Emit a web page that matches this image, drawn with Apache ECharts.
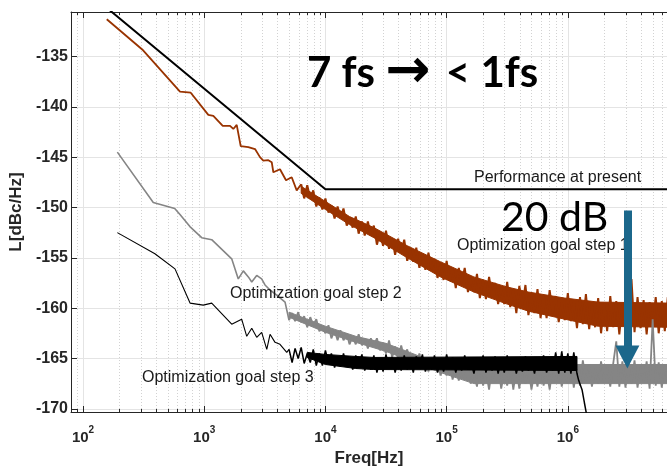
<!DOCTYPE html>
<html><head><meta charset="utf-8">
<script src="https://cdn.jsdelivr.net/npm/echarts@6/dist/echarts.min.js"></script>
<style>html,body{margin:0;padding:0;background:#fff}#c{width:667px;height:472px}</style>
</head><body><div id="c"></div>
<script>
// ---- axis ranges ----
const xMin = 79.6, xMax = 6.58e6, yMin = -170.32, yMax = -130.58;
// minor (dotted) frequency grid / minor ticks
const minorFreq = [90,
  200,300,400,500,600,700,800,900,
  2000,3000,4000,5000,6000,7000,8000,9000,
  20000,30000,40000,50000,60000,70000,80000,90000,
  200000,300000,400000,500000,600000,700000,800000,900000,
  2000000,3000000,4000000,5000000,6000000];

// ---- "Performance at present" ----
const perfFreq  = [100, 10000, 7000000];
const perfLevel = [-128.2, -148.2, -148.2];

// ---- sampled frequencies of the dense (noisy) part of the traces ----
const noiseFreq = [
  5010,5310,5620,5960,6310,6680,7080,7500,7940,8410,8910,9440,
  10000,10600,11200,11900,12600,13300,14100,15000,15800,16800,17800,18800,20000,21100,22400,23700,25100,26600,28200,29900,
  31600,33500,35500,37600,39800,42200,44700,47300,50100,53100,56200,59600,63100,66800,70800,75000,79400,84100,89100,94400,
  100000,106000,112000,119000,126000,133000,141000,150000,158000,168000,178000,188000,200000,211000,224000,237000,251000,266000,282000,299000,
  316000,335000,355000,376000,398000,422000,447000,473000,501000,531000,562000,596000,631000,668000,708000,750000,794000,841000,891000,944000,
  1000000,1060000,1120000,1190000,1260000,1330000,1410000,1500000,1580000,1680000,1780000,1880000,2000000,2110000,2240000,2370000,2510000,2660000,2820000,2990000,
  3160000,3350000,3550000,3760000,3980000,4220000,4470000,4730000,5010000,5310000,5620000,5960000,6310000,6680000];

// ---- Optimization goal step 1 (brown) ----
const step1LowFreq  = [157,308,631,774,1081,1189,1422,1633,1738,1854,2000,2311,2625,2884,3073,3381,3606,3718,4218,4362,4731,4797,5272,5795];
const step1LowLevel = [-131.3,-134.3,-138.5,-138.6,-140.8,-140.9,-141.9,-141.9,-142.2,-141.8,-143.9,-144.0,-144.2,-145.0,-145.35,-145.3,-145.5,-146.5,-146.2,-146.1,-147.3,-147.3,-147.0,-148.3];
const step1Noise = [null,null,null,null,
  -147.7,-149.1,-147.8,-149.1,-148.3,-149.9,-149.0,-150.2,-149.1,-150.5,
  -149.8,-151.1,-149.9,-151.0,-150.1,-151.8,-151.1,-152.0,-150.9,-152.6,
  -151.4,-152.8,-151.4,-152.8,-151.8,-153.7,-152.5,-153.8,-152.3,-154.1,
  -153.1,-154.7,-153.1,-154.5,-153.2,-155.3,-154.3,-155.4,-154.0,-156.0,
  -154.6,-156.2,-154.5,-156.1,-155.1,-157.0,-155.6,-157.2,-155.3,-157.3,
  -156.0,-158.0,-156.0,-157.5,-156.0,-158.4,-157.1,-158.4,-156.6,-159.0,
  -157.2,-159.1,-156.9,-158.8,-157.5,-159.6,-158.0,-159.6,-157.4,-159.9,
  -158.1,-160.5,-157.8,-159.7,-157.7,-160.7,-158.9,-160.5,-158.1,-161.0,
  -158.7,-161.0,-158.2,-160.5,-158.8,-161.4,-159.4,-161.2,-158.5,-161.3,
  -159.3,-162.0,-158.9,-161.6,-158.6,-162.1,-159.7,-161.9,-159.0,-162.5,
  -159.5,-162.3,-158.8,-161.9,-159.3,-162.6,-159.6,-162.2,-159.0,-157.1,
  -162.4,-158.9,-162.0,-159.2,-162.6,-159.4,-161.9,-158.9,-162.5,-159.3,
  -162.3,-158.9];
// solid core of the brown noise band (upper / lower edge)
const step1CoreFreq  = [6310,10000,15800,25100,47300,89100,168000,316000,473000,944000,1780000,6680000];
const step1CoreUpper = [-147.9,-149.4,-150.9,-152.0,-153.8,-155.4,-156.9,-157.9,-158.4,-159.0,-159.4,-159.5];
const step1CoreLower = [-148.6,-150.2,-151.7,-153.0,-155.0,-156.9,-158.4,-159.6,-160.3,-161.1,-161.8,-161.9];

// ---- Optimization goal step 2 (grey) ----
const step2LowFreq  = [192,380,571,631,762,953,1153,1686,1910,2102,2312,2467,2710,2978,3174,3493,3963,4645];
const step2LowLevel = [-144.5,-149.5,-150.1,-150.7,-151.9,-153.0,-153.2,-155.1,-157.1,-156.3,-156.9,-157.4,-156.75,-157.1,-157.7,-158.2,-158.7,-159.4];
const step2Noise = [
  -161.2,-160.5,-161.3,-160.4,-161.4,-160.8,-161.9,-160.9,-161.7,-161.1,
  -162.3,-161.8,-162.5,-161.7,-163.0,-162.2,-163.2,-162.2,-163.2,-162.5,
  -163.6,-162.8,-163.6,-162.6,-163.7,-163.0,-164.0,-163.0,-163.7,-163.0,
  -164.2,-163.6,-164.5,-163.2,-164.9,-163.8,-165.1,-163.7,-165.0,-164.1,
  -165.6,-164.6,-165.7,-164.5,-165.9,-165.0,-166.3,-165.0,-166.1,-165.1,
  -166.7,-165.8,-166.7,-165.5,-167.1,-165.9,-167.2,-165.8,-167.0,-166.1,
  -167.5,-166.5,-167.8,-165.6,-167.7,-166.2,-168.1,-165.8,-167.3,-165.5,
  -168.0,-166.4,-167.7,-165.6,-168.1,-166.0,-168.0,-165.5,-167.5,-165.9,
  -168.1,-166.3,-167.8,-165.6,-167.7,-166.2,-168.1,-165.8,-167.3,-165.5,
  -167.8,-166.2,-167.5,-165.4,-167.9,-165.8,-167.7,-165.2,-167.2,-165.6,
  -167.8,-166.0,-167.5,-165.3,-167.4,-165.9,-167.8,-165.5,-163.3,-167.8,
  -165.3,-167.9,-165.6,-167.5,-165.2,-167.9,-165.8,-167.3,-165.3,-168.0,
  -161.1,-167.7,-165.4,-167.9,-165.6,-167.4];
const step2CoreFreq  = [5010,10000,17800,31600,47300,89100,168000,1000000,6680000];
const step2CoreUpper = [-160.4,-161.8,-162.8,-163.5,-164.3,-165.6,-165.9,-165.6,-165.6];
const step2CoreLower = [-160.9,-162.4,-163.4,-164.3,-165.1,-166.4,-167.5,-167.5,-167.5];

// ---- Optimization goal step 3 (black) ----
const step3LowFreq  = [192,392,574,764,981,1153,1686,2037,2243,2467,2711,2980,3282,3493,3840,4218,4797];
const step3LowLevel = [-152.5,-154.6,-156.1,-159.5,-159.7,-159.5,-161.6,-161.1,-162.8,-162.0,-162.9,-162.4,-164.1,-162.6,-163.4,-163.6,-164.4];
const step3Noise = [
  -164.1,-165.4,-164.0,-165.0,-163.9,-165.5,-164.5,-165.4,-164.1,-165.7,
  -164.5,-165.7,-164.2,-165.4,-164.5,-165.9,-164.8,-165.8,-164.5,-165.8,
  -164.9,-166.1,-164.7,-165.7,-164.6,-166.2,-165.3,-166.1,-164.7,-166.4,
  -165.0,-166.3,-164.6,-166.0,-164.9,-166.4,-165.1,-166.2,-164.7,-166.1,
  -165.1,-166.4,-164.8,-165.9,-164.6,-166.3,-165.2,-166.1,-164.7,-166.4,
  -165.0,-166.3,-164.6,-166.0,-164.9,-166.4,-165.1,-166.2,-164.7,-166.1,
  -165.2,-166.5,-164.9,-166.0,-164.7,-166.4,-165.3,-166.2,-164.8,-166.5,
  -165.1,-166.4,-164.7,-166.1,-165.0,-166.5,-165.2,-166.3,-164.8,-166.2,
  -165.2,-166.5,-164.9,-166.0,-164.7,-166.4,-165.3,-166.2,-164.4,-166.5,
  -164.3,-166.4,-164.5,-166.5,-164.4,-166.5];
const step3TailFreq  = [1230000,1310000,1370000,1420000,1500000];
const step3TailLevel = [-167.2,-168.1,-169.4,-170.4,-172.5];
const step3CoreFreq  = [7080,10000,17800,25100,1190000];
const step3CoreUpper = [-164.4,-164.6,-164.8,-164.9,-164.8];
const step3CoreLower = [-164.9,-165.6,-166.0,-166.1,-166.2];

// ---- 20 dB arrow (data coordinates) ----
const arrowFreq = 3.1e6, arrowFrom = -150.3, arrowHead = -164.85;

// ---- tick labels ----
const yTickLabels = [-170,-165,-160,-155,-150,-145,-140,-135];

function pairs(fs, ls) {
  const out = [];
  for (let i = 0; i < fs.length; i++) if (ls[i] != null) out.push([fs[i], ls[i]]);
  return out;
}
const step1N = pairs(noiseFreq, step1Noise);
const step2N = pairs(noiseFreq, step2Noise);
const step3N = pairs(noiseFreq, step3Noise).concat(pairs(step3TailFreq, step3TailLevel));
const step1L = pairs(step1LowFreq, step1LowLevel).concat([step1N[0]]);
const step2L = pairs(step2LowFreq, step2LowLevel).concat([step2N[0]]);
const step3L = pairs(step3LowFreq, step3LowLevel).concat([step3N[0]]);

const AX = '#262626';
const FONT = '"Liberation Sans", Arial, Helvetica, sans-serif';
const chart = echarts.init(document.getElementById('c'), null, {renderer: 'canvas'});

function isPow10(v) {
  const l = Math.log10(v);
  return Math.abs(l - Math.round(l)) < 1e-6;
}
function lineSeries(name, data, color, width, z) {
  return {name: name, type: 'line', z: z, showSymbol: false, symbol: 'none', silent: true,
    data: data, lineStyle: {color: color, width: width}, clip: true};
}
// filled core of a noise band, drawn through the axes' scales
function bandSeries(fs, up, lo, color, z) {
  return {
    type: 'custom', z: z, silent: true, clip: true,
    data: fs.map((f, i) => [f, up[i], lo[i]]),
    encode: {x: 0, y: [1, 2]},
    renderItem: function (params, api) {
      if (params.dataIndex !== 0) return null;
      const pts = [];
      for (let i = 0; i < fs.length; i++) pts.push(api.coord([fs[i], up[i]]));
      for (let i = fs.length - 1; i >= 0; i--) pts.push(api.coord([fs[i], lo[i]]));
      return {type: 'polygon', shape: {points: pts}, style: {fill: color, stroke: color, lineWidth: 1}};
    }
  };
}

const option = {
  animation: false,
  backgroundColor: '#fff',
  textStyle: {fontFamily: FONT},
  grid: {left: 71, right: 0, top: 12, bottom: 53, containLabel: false},
  xAxis: [{
    type: 'log', logBase: 10, min: xMin, max: xMax, position: 'bottom',
    axisLine: {show: true, lineStyle: {color: AX, width: 1}},
    axisTick: {show: true, inside: true, length: 6, lineStyle: {color: AX}},
    splitLine: {show: true, lineStyle: {color: '#e4e4e4', width: 1}},
    axisLabel: {
      margin: 13, showMinLabel: false, showMaxLabel: false,
      formatter: function (v) { return isPow10(v) ? '{b|10}{s|' + Math.round(Math.log10(v)) + '}' : ''; },
      rich: {
        b: {fontFamily: FONT, fontWeight: 'bold', fontSize: 15, color: AX, lineHeight: 20, verticalAlign: 'bottom'},
        s: {fontFamily: FONT, fontWeight: 'bold', fontSize: 10, color: AX, lineHeight: 10, verticalAlign: 'top'}
      }
    },
    name: 'Freq[Hz]', nameLocation: 'middle', nameGap: 38,
    nameTextStyle: {fontFamily: FONT, fontWeight: 'bold', fontSize: 17, color: AX}
  }, {
    type: 'log', logBase: 10, min: xMin, max: xMax, position: 'top',
    axisLine: {show: true, lineStyle: {color: AX, width: 1}},
    axisTick: {show: true, inside: true, length: 6, lineStyle: {color: AX}},
    splitLine: {show: false}, axisLabel: {show: false}
  }],
  yAxis: [{
    type: 'value', min: yMin, max: yMax, splitNumber: 8,
    axisLine: {show: true, lineStyle: {color: AX, width: 1}},
    axisTick: {show: true, inside: true, length: 6, lineStyle: {color: AX}},
    splitLine: {show: true, lineStyle: {color: '#e4e4e4', width: 1}},
    axisLabel: {
      margin: 3, fontFamily: FONT, fontWeight: 'bold', fontSize: 16, color: AX,
      formatter: function (v) { return yTickLabels.indexOf(Math.round(v * 100) / 100) >= 0 ? String(v) : ''; }
    },
    name: 'L[dBc/Hz]', nameLocation: 'middle', nameGap: 38,
    nameTextStyle: {fontFamily: FONT, fontWeight: 'bold', fontSize: 17, color: AX}
  }],
  series: [
    {
      type: 'custom', z: 1, silent: true, clip: false,
      data: minorFreq.map(f => [f, yMin]),
      encode: {x: 0, y: 1},
      renderItem: function (params, api) {
        const cs = params.coordSys;
        const x = Math.round(api.coord([api.value(0), yMin])[0]) + 0.5;
        const top = cs.y, bot = cs.y + cs.height;
        return {type: 'group', children: [
          {type: 'line', shape: {x1: x, y1: top, x2: x, y2: bot}, style: {stroke: '#d2d2d2', lineWidth: 1, lineDash: [1, 2]}},
          {type: 'line', shape: {x1: x, y1: bot, x2: x, y2: bot - 3}, style: {stroke: AX, lineWidth: 1}},
          {type: 'line', shape: {x1: x, y1: top, x2: x, y2: top + 3}, style: {stroke: AX, lineWidth: 1}}
        ]};
      }
    },
    lineSeries('Performance at present', pairs(perfFreq, perfLevel), '#000', 2, 3),
    lineSeries('Optimization goal step 1', step1L, '#993300', 1.8, 3),
    lineSeries('Optimization goal step 1 (dense)', step1N, '#993300', 2.0, 3),
    bandSeries(step1CoreFreq, step1CoreUpper, step1CoreLower, '#993300', 3),
    lineSeries('Optimization goal step 2', step2L, '#858585', 1.6, 3),
    lineSeries('Optimization goal step 2 (dense)', step2N, '#858585', 1.8, 3),
    bandSeries(step2CoreFreq, step2CoreUpper, step2CoreLower, '#858585', 3),
    lineSeries('Optimization goal step 3', step3L, '#000', 1.1, 4),
    lineSeries('Optimization goal step 3 (dense)', step3N, '#000', 1.5, 4),
    bandSeries(step3CoreFreq, step3CoreUpper, step3CoreLower, '#000', 4),
    {
      type: 'line', z: 10, showSymbol: false, symbol: 'none', data: [], silent: true,
      markLine: {
        silent: true, symbol: ['none', 'triangle'], symbolSize: [24, 23],
        label: {show: false},
        lineStyle: {color: '#1b678b', width: 8, type: 'solid'},
        itemStyle: {color: '#1b678b'},
        data: [[{coord: [arrowFreq, arrowFrom]}, {coord: [arrowFreq, arrowHead]}]]
      }
    }
  ],
  graphic: [
    {type: 'text', z: 5, left: 307, top: 46, style: {
      text: '{a|7 fs }{b|→}{c| }{a| < 1fs}',
      rich: {
        a: {fontFamily: 'Lato, "DejaVu Sans", sans-serif', fontWeight: 'bold', fontSize: 42, color: '#000', lineHeight: 46},
        b: {fontFamily: '"DejaVu Sans", sans-serif', fontWeight: 'bold', fontSize: 54, color: '#000', lineHeight: 46},
        c: {fontFamily: 'Lato, sans-serif', fontSize: 20, lineHeight: 46}
      }}},
    {type: 'text', z: 5, left: 501, top: 197, style: {text: '20 dB', font: '41px Lato, "DejaVu Sans", sans-serif', fill: '#000'}},
    {type: 'text', z: 5, left: 474, top: 170, style: {text: 'Performance at present', font: '16px ' + FONT, fill: '#1a1a1a'}},
    {type: 'text', z: 5, left: 457, top: 238, style: {text: 'Optimization goal step 1', font: '16px ' + FONT, fill: '#1a1a1a'}},
    {type: 'text', z: 5, left: 230, top: 286, style: {text: 'Optimization goal step 2', font: '16px ' + FONT, fill: '#1a1a1a'}},
    {type: 'text', z: 5, left: 142, top: 370, style: {text: 'Optimization goal step 3', font: '16px ' + FONT, fill: '#1a1a1a'}}
  ]
};
chart.setOption(option);
</script>
</body></html>
